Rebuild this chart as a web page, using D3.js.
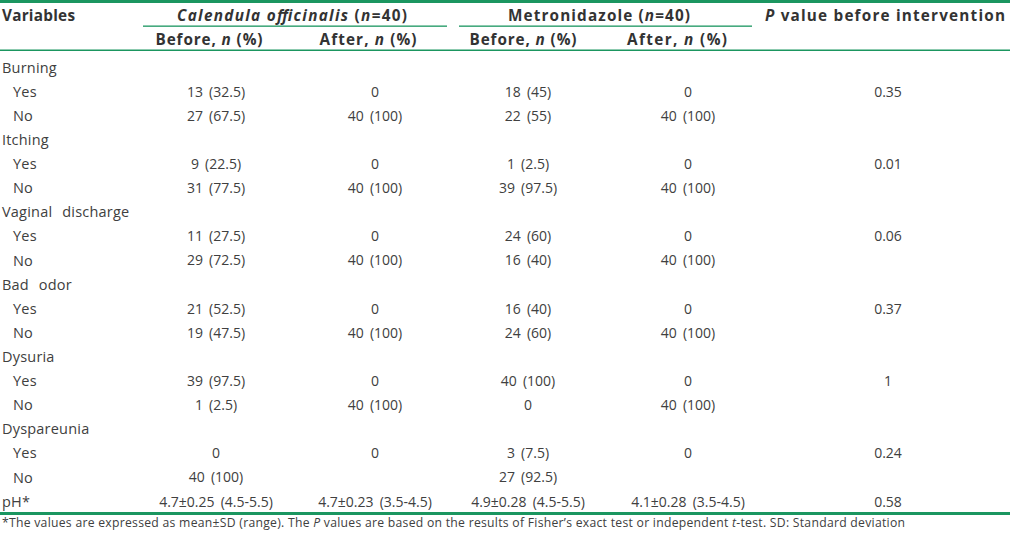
<!DOCTYPE html>
<html><head><meta charset="utf-8">
<script src="https://cdn.jsdelivr.net/npm/d3@7"></script>
<style>
html,body{margin:0;padding:0;background:#fff;}
svg{display:block;}
</style></head>
<body>
<script>
// ---- data ----
const rowLabels = ["Burning","Yes","No","Itching","Yes","No","Vaginal discharge","Yes","No","Bad odor","Yes","No","Dysuria","Yes","No","Dyspareunia","Yes","No","pH*"];
const rowIsSub = [0,1,1,0,1,1,0,1,1,0,1,1,0,1,1,0,1,1,0];
const calendulaBefore = ["","13 (32.5)","27 (67.5)","","9 (22.5)","31 (77.5)","","11 (27.5)","29 (72.5)","","21 (52.5)","19 (47.5)","","39 (97.5)","1 (2.5)","","0","40 (100)","4.7±0.25 (4.5-5.5)"];
const calendulaAfter = ["","0","40 (100)","","0","40 (100)","","0","40 (100)","","0","40 (100)","","0","40 (100)","","0","","4.7±0.23 (3.5-4.5)"];
const metroBefore = ["","18 (45)","22 (55)","","1 (2.5)","39 (97.5)","","24 (60)","16 (40)","","16 (40)","24 (60)","","40 (100)","0","","3 (7.5)","27 (92.5)","4.9±0.28 (4.5-5.5)"];
const metroAfter = ["","0","40 (100)","","0","40 (100)","","0","40 (100)","","0","40 (100)","","0","40 (100)","","0","","4.1±0.28 (3.5-4.5)"];
const pValues = ["","0.35","","","0.01","","","0.06","","","0.37","","","1","","","0.24","","0.58"];
const columnKeys = ["calBefore","calAfter","metBefore","metAfter","p"];

// ---- layout ----
const W = 1010, H = 533;
const green = "#1b9660";
const txt = "#404040";
const hdr = "#333";
const svg = d3.select("body").append("svg").attr("width", W).attr("height", H);

const colX = d3.scaleOrdinal().domain(columnKeys).range([216, 375, 528, 688, 888]);
const colHeadX = d3.scaleOrdinal().domain(columnKeys).range([209, 368, 523, 677, 885]);
const rowY = d3.scalePoint().domain(d3.range(rowLabels.length)).range([67.5, 501.5]);

// rules
svg.append("rect").attr("x",0).attr("y",0).attr("width",W).attr("height",3).attr("fill",green);
svg.append("rect").attr("x",0).attr("y",49.5).attr("width",W).attr("height",1.5).attr("fill",green);
svg.append("rect").attr("x",0).attr("y",512).attr("width",W).attr("height",3).attr("fill",green);
svg.append("rect").attr("x",143).attr("y",25.5).attr("width",304).attr("height",1.3).attr("fill",green);
svg.append("rect").attr("x",459).attr("y",25.5).attr("width",293).attr("height",1.3).attr("fill",green);

const font = "'Open Sans', sans-serif";

// header row 1
const h1 = svg.append("g").attr("font-family", font).attr("font-weight", 700).attr("font-size", 15.3).attr("fill", hdr);
h1.append("text").attr("x", 2).attr("y", 20.5).attr("textLength", 73).attr("lengthAdjust","spacing").text("Variables");
const t1 = h1.append("text").attr("x", 177).attr("y", 20.5).attr("textLength", 230).attr("lengthAdjust","spacing");
t1.append("tspan").attr("font-style","italic").text("Calendula officinalis");
t1.append("tspan").text(" (");
t1.append("tspan").attr("font-style","italic").text("n");
t1.append("tspan").text("=40)");
const t2 = h1.append("text").attr("x", 508).attr("y", 20.5).attr("textLength", 182).attr("lengthAdjust","spacing");
t2.append("tspan").text("Metronidazole (");
t2.append("tspan").attr("font-style","italic").text("n");
t2.append("tspan").text("=40)");
const t3 = h1.append("text").attr("x", 765).attr("y", 20.5).attr("textLength", 240).attr("lengthAdjust","spacing");
t3.append("tspan").attr("font-style","italic").text("P");
t3.append("tspan").text(" value before intervention");

// header row 2
const sub = ["Before, ","After, ","Before, ","After, "];
const subW = [107, 97, 107, 100];
columnKeys.slice(0,4).forEach((k,i) => {
  const t = h1.append("text").attr("x", colHeadX(k) - subW[i]/2).attr("y", 44.5)
    .attr("textLength", subW[i]).attr("lengthAdjust","spacing");
  t.append("tspan").text(sub[i]);
  t.append("tspan").attr("font-style","italic").text("n");
  t.append("tspan").text(" (%)");
});

// body
const body = svg.append("g").attr("font-family", font).attr("font-size", 14).attr("fill", txt).attr("word-spacing", 2.5);
body.selectAll("text.lab").data(rowLabels).join("text")
  .attr("class","lab")
  .attr("x", (d,i) => rowIsSub[i] ? 13 : 2)
  .attr("y", (d,i) => rowY(i))
  .attr("dy", "0.36em")
  .attr("font-size", 14.5)
  .attr("letter-spacing", 0.2)
  .attr("word-spacing", 6)
  .text(d => d);

const cols = [calendulaBefore, calendulaAfter, metroBefore, metroAfter, pValues];
cols.forEach((arr, ci) => {
  body.selectAll("text.c"+ci).data(arr).join("text")
    .attr("class","c"+ci)
    .attr("x", colX(columnKeys[ci]))
    .attr("y", (d,i) => rowY(i))
    .attr("dy", "0.36em")
    .attr("text-anchor","middle")
    .text(d => d);
});

// footnote
const fn = svg.append("text").attr("x", 2).attr("y", 527).attr("font-family", font).attr("font-size", 12.2).attr("fill", txt)
  .attr("textLength", 903).attr("lengthAdjust","spacing");
fn.append("tspan").text("*The values are expressed as mean±SD (range). The ");
fn.append("tspan").attr("font-style","italic").text("P");
fn.append("tspan").text(" values are based on the results of Fisher’s exact test or independent ");
fn.append("tspan").attr("font-style","italic").text("t");
fn.append("tspan").text("-test. SD: Standard deviation");
</script>
</body></html>
